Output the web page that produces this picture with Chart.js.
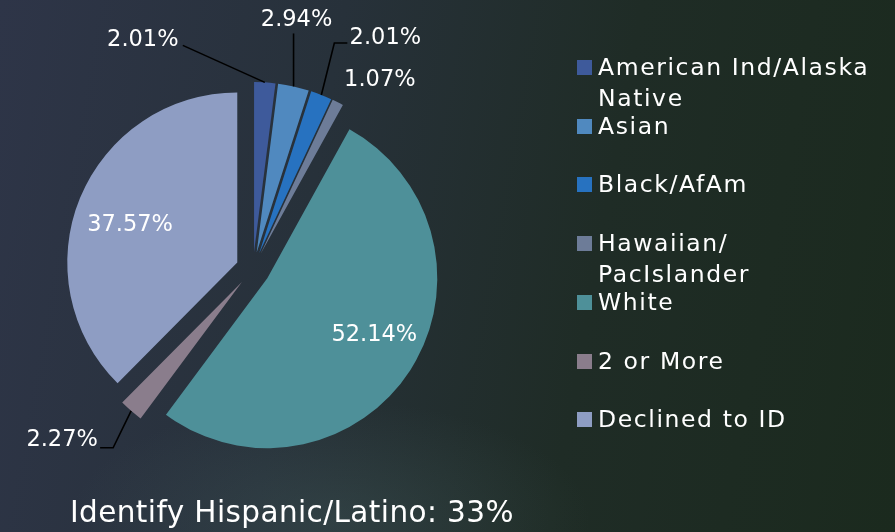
<!DOCTYPE html>
<html>
<head>
<meta charset="utf-8">
<script src="https://cdn.jsdelivr.net/npm/chart.js@4/dist/chart.umd.min.js"></script>
<style>
  html, body { margin: 0; padding: 0; }
  body {
    width: 895px; height: 532px; overflow: hidden; position: relative;
    font-family: 'DejaVu Sans', sans-serif; color: #fff;
    background:
      radial-gradient(ellipse 260px 120px at 330px 520px, rgba(70, 95, 95, 0.35), rgba(70, 95, 95, 0) 100%),
      linear-gradient(100deg, #2e3548 0%, #27313a 35%, #1f2c26 65%, #1b2a1e 100%);
  }
  #chart { position: absolute; left: 0; top: 0; }
  .legend-item { position: absolute; left: 577px; }
  .legend-item .box { position: absolute; left: 0; top: 0; width: 15px; height: 15px; }
  .legend-item .txt { position: absolute; left: 21px; top: -8px; font-size: 23.5px; line-height: 31px; letter-spacing: 1.6px; white-space: pre; }
  #title { position: absolute; left: 70px; top: 494px; font-size: 29.5px; line-height: 36px; letter-spacing: 0.4px; white-space: nowrap; }
</style>
</head>
<body>
<canvas id="chart" width="895" height="532"></canvas>
<div id="legend"></div>
<div id="title">Identify Hispanic/Latino: 33%</div>
<script>
const categories = ['American Ind/Alaska\nNative', 'Asian', 'Black/AfAm', 'Hawaiian/\nPacIslander', 'White', '2 or More', 'Declined to ID'];
const shares = [2.01, 2.94, 2.01, 1.07, 52.14, 2.27, 37.57];
const colors = ['#3e5a9b', '#5089bf', '#2772c0', '#6d7c98', '#4e9099', '#8a7d8c', '#8e9dc3'];

// where each percentage sits, relative to the middle of the slice's outer edge
const labelLayout = [
  { dx: -122, dy: -42, leader: [[40, 5]] },
  { dx: 3, dy: -66, leader: [[null, 13]] },
  { dx: 64, dy: -57, leader: [[-51, 5], [-38, 5]] },
  { dx: 42, dy: -22, leader: [] },
  { dx: -36, dy: -35, leader: [] },
  { dx: -69, dy: 29, leader: [[51, 8], [38, 8]] },
  { dx: 50, dy: 27, leader: [] }
];

const explodeDistance = 17;

// push every slice out from the centre along its middle angle
const explode = {
  id: 'explode',
  beforeDatasetsDraw(chart) {
    const { chartArea } = chart;
    const cx = (chartArea.left + chartArea.right) / 2;
    const cy = (chartArea.top + chartArea.bottom) / 2;
    chart.getDatasetMeta(0).data.forEach(arc => {
      const mid = (arc.startAngle + arc.endAngle) / 2;
      arc.x = cx + Math.cos(mid) * explodeDistance;
      arc.y = cy + Math.sin(mid) * explodeDistance;
    });
  }
};

const sliceLabels = {
  id: 'sliceLabels',
  afterDatasetsDraw(chart) {
    const ctx = chart.ctx;
    ctx.save();
    ctx.font = '22.5px "DejaVu Sans", sans-serif';
    ctx.textAlign = 'center';
    ctx.textBaseline = 'middle';
    chart.getDatasetMeta(0).data.forEach((arc, i) => {
      const mid = (arc.startAngle + arc.endAngle) / 2;
      const ax = arc.x + Math.cos(mid) * arc.outerRadius;
      const ay = arc.y + Math.sin(mid) * arc.outerRadius;
      const lay = labelLayout[i];
      const tx = ax + lay.dx, ty = ay + lay.dy;
      if (lay.leader.length) {
        ctx.strokeStyle = '#000';
        ctx.lineWidth = 1.6;
        ctx.beginPath();
        ctx.moveTo(ax, ay);
        lay.leader.forEach(([px, py]) => ctx.lineTo(px === null ? ax : tx + px, ty + py));
        ctx.stroke();
      }
      ctx.fillStyle = '#fff';
      ctx.fillText(shares[i].toFixed(2) + '%', tx, ty);
    });
    ctx.restore();
  }
};

new Chart(document.getElementById('chart'), {
  type: 'pie',
  data: {
    labels: categories,
    datasets: [{
      data: shares,
      backgroundColor: colors,
      borderWidth: 0,
      radius: 170
    }]
  },
  options: {
    responsive: false,
    animation: false,
    events: [],
    layout: { padding: { left: 63, right: 452, top: 79, bottom: 73 } },
    plugins: { legend: { display: false }, tooltip: { enabled: false } }
  },
  plugins: [explode, sliceLabels]
});

const legend = document.getElementById('legend');
categories.forEach((name, i) => {
  const item = document.createElement('div');
  item.className = 'legend-item';
  item.style.top = (60 + i * 58.7) + 'px';
  item.innerHTML = '<div class="box" style="background:' + colors[i] + '"></div><div class="txt"></div>';
  item.querySelector('.txt').textContent = name;
  legend.appendChild(item);
});
</script>
</body>
</html>
